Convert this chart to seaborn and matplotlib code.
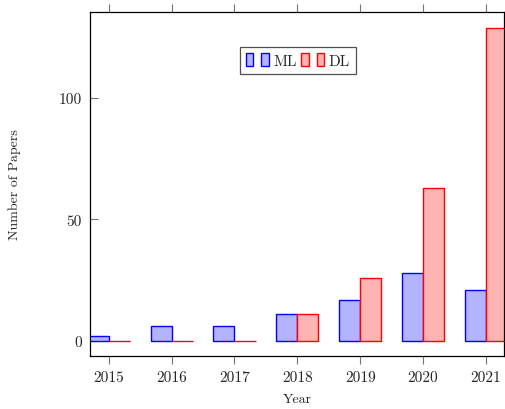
import matplotlib
matplotlib.use("Agg")
import matplotlib.pyplot as plt
from matplotlib.patches import Rectangle
from matplotlib.legend_handler import HandlerTuple
import seaborn as sns
import pandas as pd

years = ["2015", "2016", "2017", "2018", "2019", "2020", "2021"]
ml_counts = [2, 6, 6, 11, 17, 28, 21]
dl_counts = [0, 0, 0, 11, 26, 63, 129]
series_names = ["ML", "DL"]
y_ticks = [0, 50, 100]

sns.set_style("white")
plt.rcParams["font.family"] = ["cmr10", "DejaVu Serif"]
plt.rcParams["axes.formatter.use_mathtext"] = True
plt.rcParams["mathtext.fontset"] = "cm"

df = pd.DataFrame({
    "Year": years * 2,
    "Papers": ml_counts + dl_counts,
    "Type": [series_names[0]] * len(years) + [series_names[1]] * len(years),
})

fill = {"ML": "#b3b3ff", "DL": "#ffb3b3"}
edge = {"ML": "#0000ff", "DL": "#ff0000"}

fig = plt.figure(figsize=(5.06, 4.10), dpi=100)
ax = fig.add_axes([90 / 506, 53 / 410, 414 / 506, 344 / 410])

sns.barplot(data=df, x="Year", y="Papers", hue="Type", order=years,
            hue_order=series_names, palette=fill, width=0.67, ax=ax,
            linewidth=1.0, saturation=1.0, legend=False)

for cont, name in zip(ax.containers, series_names):
    for p in cont:
        p.set_edgecolor(edge[name])
        p.set_linewidth(1.0)

ax.set_xlim(-0.30, 6.29)
ax.set_ylim(-6.2, 135.4)
ax.set_yticks(y_ticks)
ax.set_yticklabels([str(t) for t in y_ticks])

for s in ax.spines.values():
    s.set_visible(True)
    s.set_color("black")
    s.set_linewidth(0.9)

ax.tick_params(axis="x", which="both", direction="out", top=True, bottom=True,
               labeltop=False, length=6, width=0.8, color="0.45",
               labelsize=11, pad=4)
ax.tick_params(axis="y", which="both", direction="in", left=True, right=False,
               length=6, width=0.8, color="0.45", labelsize=11, pad=6)

ax.set_xlabel("Year", fontsize=10, labelpad=7)
ax.set_ylabel("Number of Papers", fontsize=10, labelpad=27)

handles = []
for name in series_names:
    p1 = Rectangle((0, 0), 1, 1, facecolor=fill[name], edgecolor=edge[name], linewidth=1.0)
    p2 = Rectangle((0, 0), 1, 1, facecolor=fill[name], edgecolor=edge[name], linewidth=1.0)
    handles.append((p1, p2))

leg = ax.legend(handles, series_names, loc="center", bbox_to_anchor=(0.502, 0.86),
                ncol=2, frameon=True, fancybox=False, fontsize=11,
                handler_map={tuple: HandlerTuple(ndivide=None, pad=0.5)},
                handlelength=1.5, handleheight=1.0, handletextpad=0.3,
                columnspacing=0.3, borderpad=0.4, borderaxespad=0.0)
leg.get_frame().set_edgecolor("0.15")
leg.get_frame().set_linewidth(0.9)

fig.savefig("out.png", dpi=100)
